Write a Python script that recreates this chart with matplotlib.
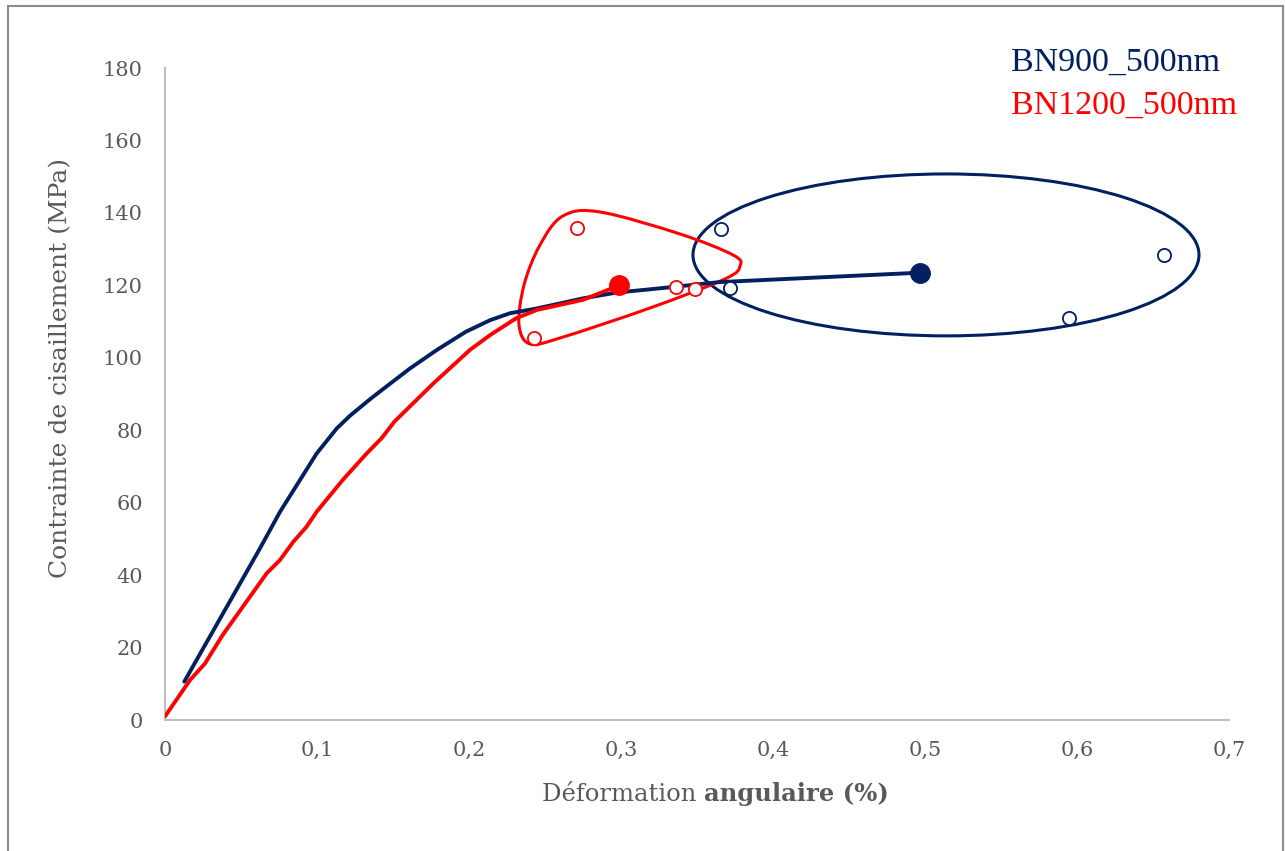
import matplotlib
matplotlib.use('Agg')
import matplotlib.pyplot as plt
import numpy as np
from matplotlib.patches import Ellipse, PathPatch
from matplotlib.path import Path
from matplotlib.lines import Line2D

plt.rcParams['font.family'] = ['DejaVu Serif']

# Courbes moyennes (déformation en %, contrainte en MPa)
blue_x = [0.0127, 0.0625, 0.0757, 0.0998, 0.113, 0.1217, 0.135, 0.1436, 0.161, 0.179,
          0.198, 0.214, 0.227, 0.2445, 0.275, 0.297, 0.319, 0.365, 0.497]
blue_y = [10.6, 47.4, 57.5, 73.6, 80.5, 84.0, 88.6, 91.4, 97.0, 102.2,
          107.2, 110.4, 112.3, 113.6, 116.4, 118.0, 118.9, 120.9, 123.5]

red_x = [0.0, 0.0164, 0.0263, 0.038, 0.0669, 0.0757, 0.0844, 0.0932, 0.0998, 0.117,
         0.1327, 0.1425, 0.151, 0.1765, 0.2007, 0.214, 0.231, 0.2445, 0.275, 0.299]
red_y = [1.0, 11.0, 15.6, 23.5, 40.5, 44.2, 49.2, 53.4, 57.5, 66.3,
         73.6, 77.8, 82.4, 92.9, 102.2, 106.3, 110.9, 113.2, 116.0, 120.0]

# Points de rupture individuels
blue_pts_x = [0.366, 0.372, 0.595, 0.657]
blue_pts_y = [135.5, 119.4, 110.9, 128.4]
red_pts_x = [0.271, 0.243, 0.336, 0.349]
red_pts_y = [135.7, 105.4, 119.6, 119.0]

# Moyennes
blue_mean = (0.497, 123.5)
red_mean = (0.299, 120.0)

labels = ['BN900_500nm', 'BN1200_500nm']
xticks = [0, 0.1, 0.2, 0.3, 0.4, 0.5, 0.6, 0.7]
xtick_labels = ['0', '0,1', '0,2', '0,3', '0,4', '0,5', '0,6', '0,7']
yticks = [0, 20, 40, 60, 80, 100, 120, 140, 160, 180]

# Zones entourées
ellipse_center = (0.5138, 128.4)
ellipse_w, ellipse_h = 0.3329, 44.7
loop_x = [0.2862, 0.3388, 0.3737, 0.3783, 0.3684, 0.3191, 0.2599, 0.2401, 0.2329, 0.2362, 0.2467, 0.2618]
loop_y = [140.25, 134.18, 128.38, 125.35, 121.76, 113.75, 105.47, 103.81, 109.06, 120.10, 131.14, 139.15]

navy = '#002060'
red = '#FF0000'
grey_txt = '#595959'

fig = plt.figure(figsize=(12.85, 8.51), dpi=100)
ax = fig.add_axes([165/1285, 1 - 720/851, 1064/1285, 652/851])

l1, = ax.plot(blue_x, blue_y, color=navy, lw=2.8, solid_capstyle='round', zorder=3)
l2, = ax.plot(red_x, red_y, color=red, lw=2.8, solid_capstyle='round', zorder=4)
ax.plot(*blue_mean, 'o', color=navy, ms=14, zorder=5)
ax.plot(*red_mean, 'o', color=red, ms=14, zorder=5)
ax.plot(blue_pts_x, blue_pts_y, 'o', mfc='white', mec=navy, ms=9.5, mew=1.3, ls='none', zorder=5)
ax.plot(red_pts_x, red_pts_y, 'o', mfc='white', mec=red, ms=9.5, mew=1.3, ls='none', zorder=5)

ax.add_patch(Ellipse(ellipse_center, ellipse_w, ellipse_h, fill=False, ec=navy, lw=2.2, zorder=2))

# boucle fermée lissée (Catmull-Rom -> Bezier)
pts = np.column_stack([loop_x, loop_y])
n = len(pts)
verts = [pts[0]]
codes = [Path.MOVETO]
for i in range(n):
    p0, p1, p2, p3 = pts[i - 1], pts[i], pts[(i + 1) % n], pts[(i + 2) % n]
    verts += [p1 + (p2 - p0) / 6, p2 - (p3 - p1) / 6, p2]
    codes += [Path.CURVE4] * 3
ax.add_patch(PathPatch(Path(verts, codes), fill=False, ec=red, lw=2.2, zorder=2))

ax.set_xlim(0, 0.7)
ax.set_ylim(0, 180)
ax.set_xticks(xticks)
ax.set_xticklabels(xtick_labels)
ax.set_yticks(yticks)
ax.tick_params(length=0, labelsize=15, colors=grey_txt, pad=15)
ax.tick_params(axis='y', pad=16)
for s in ['top', 'right']:
    ax.spines[s].set_visible(False)
for s in ['left', 'bottom']:
    ax.spines[s].set_color('#bfbfbf')
    ax.spines[s].set_linewidth(1.5)

ax.set_ylabel('Contrainte de cisaillement (MPa)', fontsize=18, color=grey_txt)
ax.yaxis.set_label_coords(-0.0874, 0.54)
fig.text(704/1285, 1 - 801/851, 'Déformation ', ha='right', va='baseline', fontsize=17.5, color=grey_txt)
fig.text(704/1285, 1 - 801/851, 'angulaire (%)', ha='left', va='baseline', fontsize=17.5,
         color=grey_txt, fontweight='bold')

ax.legend([l1, l2], labels, handlelength=0, handletextpad=0, labelcolor='linecolor',
          frameon=False, loc='upper left', bbox_to_anchor=(994/1285, 1 - 30/851),
          bbox_transform=fig.transFigure, prop={'family': 'Liberation Serif', 'size': 24.5},
          labelspacing=0.35, borderpad=0)

# cadre extérieur
fc = '#8c8c8c'
fig.add_artist(Line2D([7.5/1285, 7.5/1285], [0, 1 - 6/851], color=fc, lw=1.5))
fig.add_artist(Line2D([7.5/1285, 1283/1285], [1 - 6/851, 1 - 6/851], color=fc, lw=1.5))
fig.add_artist(Line2D([1283/1285, 1283/1285], [0, 1 - 6/851], color=fc, lw=1.5))

fig.savefig('out.png', dpi=100)
